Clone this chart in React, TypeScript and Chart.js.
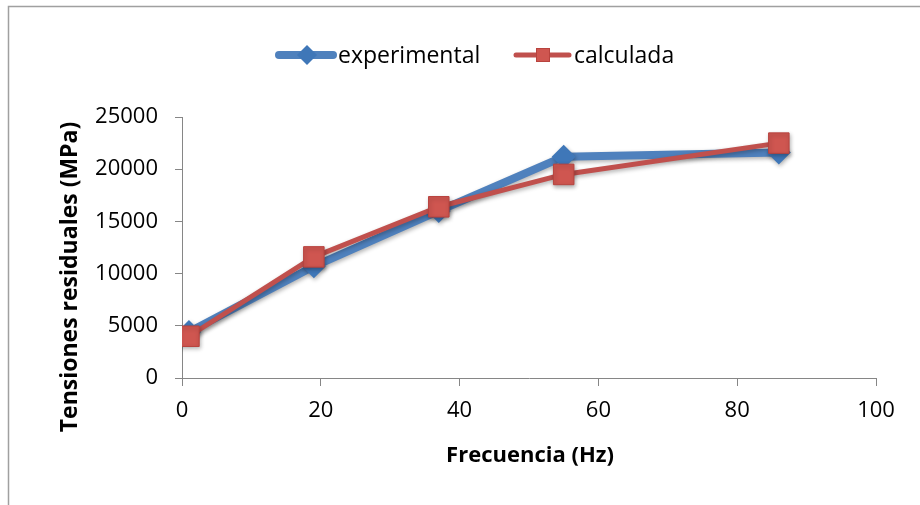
import React, { useEffect, useRef } from "react";
import { Chart, registerables } from "chart.js";

Chart.register(...registerables);

const frequencies = [1, 19, 37, 55, 86];
const experimental = [4400, 10700, 16000, 21200, 21600];
const calculada = [4000, 11600, 16400, 19500, 22500];
const seriesNames = ["experimental", "calculada"];
const xTitle = "Frecuencia (Hz)";
const yTitle = "Tensiones residuales (MPa)";

const BLUE = "#4F81BD";
const BLUE_MARK = "#3F77B8";
const RED = "#C0504D";
const RED_MARK = "#CF5650";
const AXIS = "#868686";
const FONT = "'Open Sans', sans-serif";

const decorPlugin = {
  id: "decor",
  beforeDraw(chart: any) {
    const ctx = chart.ctx;
    ctx.save();
    ctx.fillStyle = "#ffffff";
    ctx.fillRect(0, 0, chart.width, chart.height);
    ctx.strokeStyle = "#a0a0a0";
    ctx.lineWidth = 1.5;
    ctx.strokeRect(8.5, 6.5, 2000, 2000);
    ctx.restore();
  },
  afterDraw(chart: any) {
    const ctx = chart.ctx;
    ctx.save();
    // Legend
    ctx.lineCap = "round";
    // experimental
    ctx.strokeStyle = BLUE;
    ctx.lineWidth = 8;
    ctx.beginPath();
    ctx.moveTo(279, 55);
    ctx.lineTo(333, 55);
    ctx.stroke();
    ctx.fillStyle = BLUE_MARK;
    ctx.beginPath();
    ctx.moveTo(307, 45);
    ctx.lineTo(317, 55);
    ctx.lineTo(307, 65);
    ctx.lineTo(297, 55);
    ctx.closePath();
    ctx.fill();
    // calculada
    ctx.strokeStyle = RED;
    ctx.lineWidth = 5;
    ctx.beginPath();
    ctx.moveTo(516, 55);
    ctx.lineTo(569, 55);
    ctx.stroke();
    ctx.fillStyle = RED_MARK;
    ctx.strokeStyle = "#B8433E";
    ctx.lineWidth = 1;
    ctx.fillRect(536, 48, 14, 14);
    ctx.strokeRect(536.5, 48.5, 13, 13);

    ctx.fillStyle = "#000";
    ctx.font = `23px ${FONT}`;
    ctx.textBaseline = "middle";
    ctx.textAlign = "left";
    ctx.fillText(seriesNames[0], 338, 56);
    ctx.fillText(seriesNames[1], 574, 56);

    // Axis titles
    ctx.font = `bold 22px ${FONT}`;
    ctx.textAlign = "center";
    ctx.fillText(xTitle, 530, 456);
    ctx.translate(70, 277);
    ctx.rotate(-Math.PI / 2);
    ctx.font = `bold 23px ${FONT}`;
    ctx.fillText(yTitle, 0, 0);
    ctx.restore();
  },
};

const shadowPlugin = {
  id: "markerShadow",
  beforeDatasetDraw(chart: any) {
    const ctx = chart.ctx;
    ctx.save();
    ctx.shadowColor = "rgba(0,0,0,0.3)";
    ctx.shadowBlur = 4;
    ctx.shadowOffsetX = 1;
    ctx.shadowOffsetY = 2;
  },
  afterDatasetDraw(chart: any) {
    chart.ctx.restore();
  },
};

export default function App() {
  const ref = useRef<HTMLCanvasElement | null>(null);
  useEffect(() => {
    if (!ref.current) return;
    const chart = new Chart(ref.current, {
      type: "scatter",
      data: {
        datasets: [
          {
            label: seriesNames[0],
            data: frequencies.map((x, i) => ({ x, y: experimental[i] })),
            showLine: true,
            borderColor: BLUE,
            borderWidth: 8,
            backgroundColor: BLUE_MARK,
            pointStyle: "rectRot",
            pointRadius: 12,
            pointBorderWidth: 0,
            pointBackgroundColor: BLUE_MARK,
            borderJoinStyle: "round",
            borderCapStyle: "round",
            order: 2,
          },
          {
            label: seriesNames[1],
            data: frequencies.map((x, i) => ({ x, y: calculada[i] })),
            showLine: true,
            borderColor: RED,
            borderWidth: 5,
            backgroundColor: RED_MARK,
            pointStyle: "rect",
            pointRadius: 14.5,
            pointBorderWidth: 1,
            pointBorderColor: "#B8433E",
            pointBackgroundColor: RED_MARK,
            borderJoinStyle: "round",
            borderCapStyle: "round",
            order: 1,
          },
        ],
      },
      options: {
        responsive: false,
        animation: false,
        events: [],
        layout: { padding: { top: 117, right: 44, left: 0, bottom: 0 } },
        plugins: {
          legend: { display: false },
          tooltip: { enabled: false },
          title: { display: false },
        },
        scales: {
          x: {
            type: "linear",
            min: 0,
            max: 100,
            ticks: {
              stepSize: 20,
              color: "#000",
              font: { family: FONT, size: 22 },
              padding: 12,
              maxRotation: 0,
              callback: (v: any) => String(v),
            },
            grid: {
              drawOnChartArea: false,
              drawTicks: true,
              tickLength: 8,
              tickColor: AXIS,
            },
            border: { color: AXIS, width: 1 },
            afterFit(scale: any) {
              scale.height = 127;
            },
          },
          y: {
            type: "linear",
            min: 0,
            max: 25000,
            ticks: {
              stepSize: 5000,
              color: "#000",
              font: { family: FONT, size: 22 },
              padding: 17,
              callback: (v: any) => String(v),
            },
            grid: {
              drawOnChartArea: false,
              drawTicks: true,
              tickLength: 7,
              tickColor: AXIS,
            },
            border: { color: AXIS, width: 1 },
            afterFit(scale: any) {
              scale.width = 182;
            },
          },
        },
      },
      plugins: [decorPlugin, shadowPlugin],
    } as any);
    return () => chart.destroy();
  }, []);
  return (
    <div style={{ position: "fixed", left: 0, top: 0, width: 920, height: 505 }}>
      <canvas ref={ref} width={920} height={505} style={{ display: "block" }} />
    </div>
  );
}
